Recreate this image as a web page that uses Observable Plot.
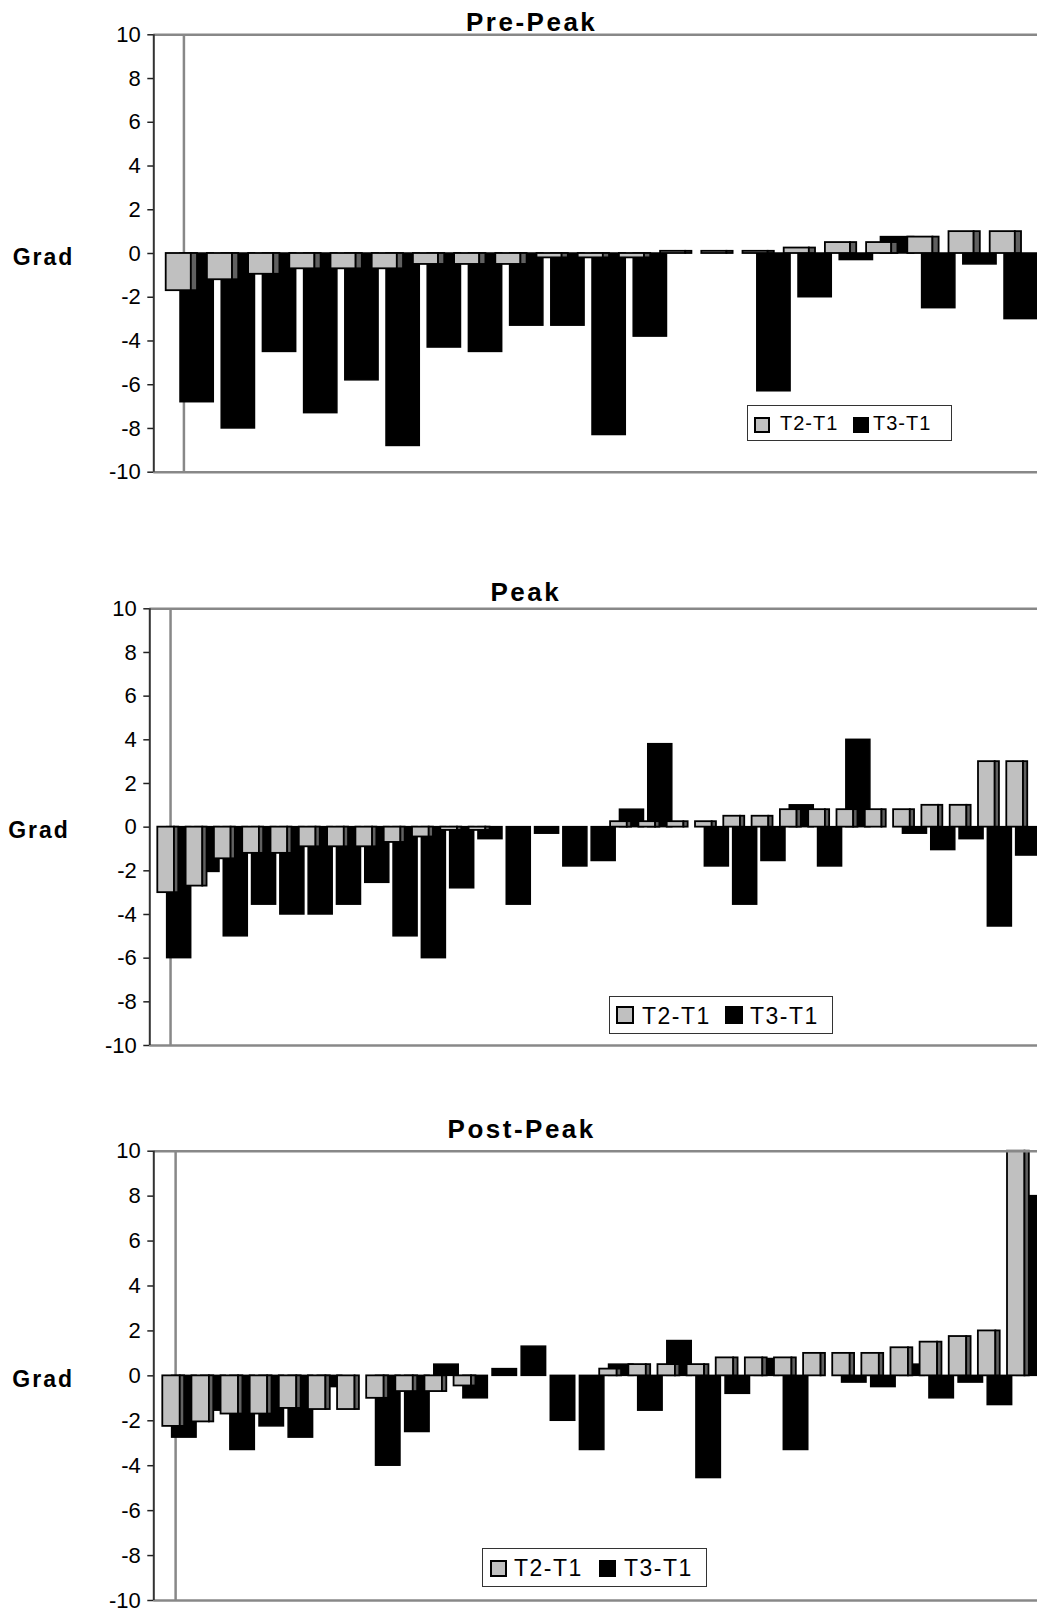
<!DOCTYPE html>
<html>
<head>
<meta charset="utf-8">
<script src="https://cdn.jsdelivr.net/npm/d3@7"></script>
<script src="https://cdn.jsdelivr.net/npm/@observablehq/plot@0.6"></script>
<style>
  html, body { margin: 0; padding: 0; background: #fff; overflow: hidden; }
  #page { position: relative; width: 1037px; height: 1609px; font-family: Arial, "Liberation Sans", sans-serif; color: #000; }
  .panel { position: absolute; left: 0; }
  .title { position: absolute; font-weight: bold; font-size: 26px; line-height: 26px; letter-spacing: 2.5px; white-space: nowrap; transform: translateX(-50%); }
  .ylab { position: absolute; font-weight: bold; font-size: 23px; line-height: 23px; letter-spacing: 2px; white-space: nowrap; }
  .legend { position: absolute; border: 1px solid #333; box-sizing: border-box; background: #fff; }
  .legend .sw { position: absolute; box-sizing: border-box; }
  .legend .lt { position: absolute; white-space: nowrap; }
</style>
</head>
<body>
<div id="page"></div>
<script>
// Series and axis ticks
const seriesNames = ["T2-T1", "T3-T1"];
const yTicks = [-10, -8, -6, -4, -2, 0, 2, 4, 6, 8, 10];
const panelTitles = ["Pre-Peak", "Peak", "Post-Peak"];
const yLabel = "Grad";

// Pre-Peak gradient changes per subject
const prePeakT2 = [-1.7, -1.2, -0.95, -0.7, -0.7, -0.7, -0.5, -0.5, -0.5, -0.2, -0.2, -0.2,
  0.1, 0.1, 0.1, 0.25, 0.5, 0.5, 0.75, 1.0, 1.0];
const prePeakT3 = [-6.8, -8.0, -4.5, -7.3, -5.8, -8.8, -4.3, -4.5, -3.3, -3.3, -8.3, -3.8,
  0, 0, -6.3, -2.0, -0.3, 0.75, -2.5, -0.5, -3.0];

// Peak gradient changes per subject
const peakT2 = [-3.0, -2.7, -1.45, -1.2, -1.2, -0.9, -0.9, -0.9, -0.7, -0.45, -0.15, -0.15,
  0, 0, 0, 0, 0.25, 0.25, 0.25, 0.25, 0.5, 0.5, 0.8, 0.8, 0.8, 0.8, 0.8, 1.0, 1.0, 3.0, 3.0];
const peakT3 = [-6.0, -2.05, -5.0, -3.55, -4.0, -4.0, -3.55, -2.55, -5.0, -6.0, -2.8, -0.55,
  -3.55, -0.3, -1.8, -1.55, 0.8, 3.8, 0, -1.8, -3.55, -1.55, 1.0, -1.8, 4.0, 0, -0.3, -1.05, -0.55, -4.55, -1.3];

// Post-Peak gradient changes per subject
const postPeakT2 = [-2.25, -2.05, -1.7, -1.7, -1.45, -1.5, -1.5, -1.0, -0.7, -0.7, -0.45,
  0, 0, 0, 0, 0.3, 0.5, 0.5, 0.5, 0.8, 0.8, 0.8, 1.0, 1.0, 1.0, 1.25, 1.5, 1.75, 2.0, 10];
const postPeakT3 = [-2.75, -1.55, -3.3, -2.25, -2.75, -0.5, 0, -4.0, -2.5, 0.5, -1.0,
  0.3, 1.3, -2.0, -3.3, 0.5, -1.55, 1.55, -4.55, -0.8, 0.75, -3.3, 0, -0.3, -0.5, 0.5, -1.0, -0.3, -1.3, 8.0];

// Layout of each panel: placement on the page, frame margins, x window (in subject steps),
// bar geometry as fractions of one subject step, and legend box.
const panels = [
  { title: panelTitles[0], t2: prePeakT2, t3: prePeakT3,
    top: 0, height: 490, marginTop: 34.3, marginBottom: 18.3, marginLeft: 153.3,
    xDomain: [-0.301, 21.148], front: 0.61, side: 0.76, black: [0.347, 1.155], grid: 0.43,
    titleX: 531.7, titleTop: 9, ylabLeft: 12.7, ylabTop: 245.5,
    legend: { left: 747, top: 405, w: 205, h: 36, font: 20, ls: 1, sw: 16, swTop: 11,
      items: [6, 32, 105, 125], textTop: 7.4 } },
  { title: panelTitles[1], t2: peakT2, t3: peakT3,
    top: 560, height: 500, marginTop: 48.3, marginBottom: 15, marginLeft: 149.3,
    xDomain: [-0.283, 31.085], front: 0.59, side: 0.74, black: [0.33, 1.18], grid: 0.45,
    titleX: 525.8, titleTop: 578.7, ylabLeft: 8.2, ylabTop: 819,
    legend: { left: 609, top: 996, w: 224, h: 38, font: 23, ls: 1.5, sw: 18, swTop: 9,
      items: [6, 32, 115, 140], textTop: 7.9 } },
  { title: panelTitles[2], t2: postPeakT2, t3: postPeakT3,
    top: 1090, height: 519, marginTop: 60.7, marginBottom: 9, marginLeft: 153.3,
    xDomain: [-0.309, 30.03], front: 0.6, side: 0.75, black: [0.32, 1.16], grid: 0.44,
    titleX: 521.7, titleTop: 1116.3, ylabLeft: 12.3, ylabTop: 1367.5,
    legend: { left: 482, top: 1548, w: 225, h: 39, font: 23, ls: 1.5, sw: 17, swTop: 11,
      items: [7, 31, 116, 141], textTop: 8.2 } }
];

const page = document.getElementById("page");

function drawPanel(p) {
  const rows = d3.range(p.t2.length).map(i => ({ i, t2: p.t2[i], t3: p.t3[i] }));
  const grayRows = rows.filter(d => d.t2 !== 0);
  const blackRows = rows.filter(d => d.t3 !== 0);

  const svg = Plot.plot({
    width: 1037,
    height: p.height,
    marginTop: p.marginTop,
    marginBottom: p.marginBottom,
    marginLeft: p.marginLeft,
    marginRight: 0,
    style: { fontFamily: "Arial, 'Liberation Sans', sans-serif", fontSize: "22px", color: "#000", background: "transparent" },
    x: { type: "linear", domain: p.xDomain, axis: null },
    y: { domain: [-10, 10], axis: null, label: null },
    marks: [
      // vertical guide at the first subject
      Plot.ruleX([p.grid], { stroke: "#888", strokeWidth: 2.5 }),
      // T3-T1 bars, behind
      Plot.rect(blackRows, {
        x1: d => d.i + p.black[0], x2: d => d.i + p.black[1],
        y1: 0, y2: "t3", fill: "#000", stroke: "#000", strokeWidth: 1.5
      }),
      // T2-T1 bars: front face
      Plot.rect(grayRows, {
        x1: d => d.i, x2: d => d.i + p.front,
        y1: 0, y2: "t2", fill: "#c0c0c0", stroke: "#000", strokeWidth: 1.8
      }),
      // T2-T1 bars: shaded side face
      Plot.rect(grayRows, {
        x1: d => d.i + p.front, x2: d => d.i + p.side,
        y1: 0, y2: "t2", fill: "#606060", stroke: "#000", strokeWidth: 1.8
      }),
      // top and bottom edges of the plot area
      Plot.ruleY([yTicks[yTicks.length - 1], yTicks[0]], { stroke: "#888", strokeWidth: 2.5 }),
      // value axis line
      Plot.ruleX([p.xDomain[0]], { stroke: "#333", strokeWidth: 2 }),
      Plot.axisY({
        ticks: yTicks, tickSize: 6, tickPadding: 7, label: null,
        tickFormat: d => String(d), fontSize: 22, stroke: "#222", strokeWidth: 1.5, fill: "#000"
      })
    ]
  });
  svg.classList.add("panel");
  svg.style.top = p.top + "px";
  page.appendChild(svg);

  const title = document.createElement("div");
  title.className = "title";
  title.textContent = p.title;
  title.style.left = p.titleX + "px";
  title.style.top = p.titleTop + "px";
  page.appendChild(title);

  const yl = document.createElement("div");
  yl.className = "ylab";
  yl.textContent = yLabel;
  yl.style.left = p.ylabLeft + "px";
  yl.style.top = p.ylabTop + "px";
  page.appendChild(yl);

  const L = p.legend;
  const box = document.createElement("div");
  box.className = "legend";
  Object.assign(box.style, { left: L.left + "px", top: L.top + "px", width: L.w + "px", height: L.h + "px" });
  const swatchStyles = [
    { background: "#c0c0c0", border: "2px solid #000" },
    { background: "#000", border: "2px solid #000" }
  ];
  seriesNames.forEach((name, k) => {
    const sw = document.createElement("div");
    sw.className = "sw";
    Object.assign(sw.style, swatchStyles[k], {
      left: L.items[k * 2] + "px", top: L.swTop + "px", width: L.sw + "px", height: L.sw + "px"
    });
    box.appendChild(sw);
    const t = document.createElement("div");
    t.className = "lt";
    t.textContent = name;
    Object.assign(t.style, {
      left: L.items[k * 2 + 1] + "px", top: L.textTop + "px",
      fontSize: L.font + "px", lineHeight: L.font + "px", letterSpacing: L.ls + "px"
    });
    box.appendChild(t);
  });
  page.appendChild(box);
}

panels.forEach(drawPanel);
</script>
</body>
</html>
